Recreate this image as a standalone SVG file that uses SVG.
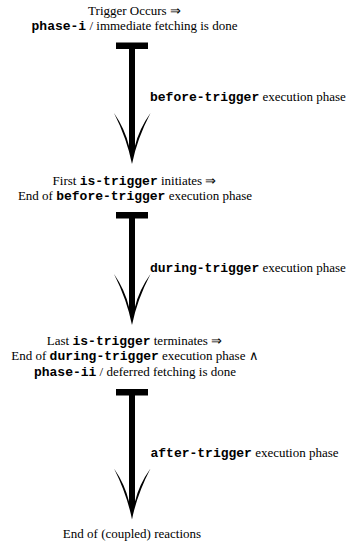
<svg xmlns="http://www.w3.org/2000/svg" xmlns:xlink="http://www.w3.org/1999/xlink" width="351" height="546" viewBox="0 0 351 546">
<style>
text{font-family:"Liberation Serif","Times New Roman",serif;font-size:13px;fill:#000}
.m{font-family:"Liberation Mono","Courier New",monospace;font-weight:bold}
.c{text-anchor:middle}
</style>
<defs>
<path id="head" d="M -18,-51 Q -5,-25 0,0 Q 5,-25 18.5,-51 Q 7,-35 3,-18 L -3,-18 Q -7,-35 -18,-51 Z" fill="#000"/>
</defs>
<rect width="351" height="546" fill="#fff"/>
<g id="n1">
<text class="c" x="134.5" y="15">Trigger Occurs ⇒</text>
<text class="c" x="134.5" y="30"><tspan class="m">phase-i</tspan> / immediate fetching is done</text>
</g>
<g id="n2">
<text class="c" x="134.5" y="185">First <tspan class="m">is-trigger</tspan> initiates ⇒</text>
<text class="c" x="135" y="200">End of <tspan class="m">before-trigger</tspan> execution phase</text>
</g>
<g id="n3">
<text class="c" x="134.5" y="345">Last <tspan class="m">is-trigger</tspan> terminates ⇒</text>
<text class="c" x="135" y="360">End of <tspan class="m">during-trigger</tspan> execution phase ∧</text>
<text class="c" x="135" y="376"><tspan class="m">phase-ii</tspan> / deferred fetching is done</text>
</g>
<g id="n4">
<text class="c" x="132" y="537.5">End of (coupled) reactions</text>
</g>
<g id="connectors">
<g id="e1">
<rect x="116" y="42.5" width="32" height="6.5"/>
<rect x="129" y="49" width="6" height="100"/>
<use xlink:href="#head" transform="translate(132,164)"/>
<text x="150" y="101"><tspan class="m">before-trigger</tspan> execution phase</text>
</g>
<g id="e2">
<rect x="116" y="212" width="32" height="6.5"/>
<rect x="129" y="218" width="6" height="92"/>
<use xlink:href="#head" transform="translate(132,325)"/>
<text x="150" y="272"><tspan class="m">during-trigger</tspan> execution phase</text>
</g>
<g id="e3">
<rect x="116" y="389" width="32" height="6.5"/>
<rect x="129" y="395" width="6" height="108"/>
<use xlink:href="#head" transform="translate(132,519.5)"/>
<text x="150.5" y="457"><tspan class="m">after-trigger</tspan> execution phase</text>
</g>
</g>
</svg>
